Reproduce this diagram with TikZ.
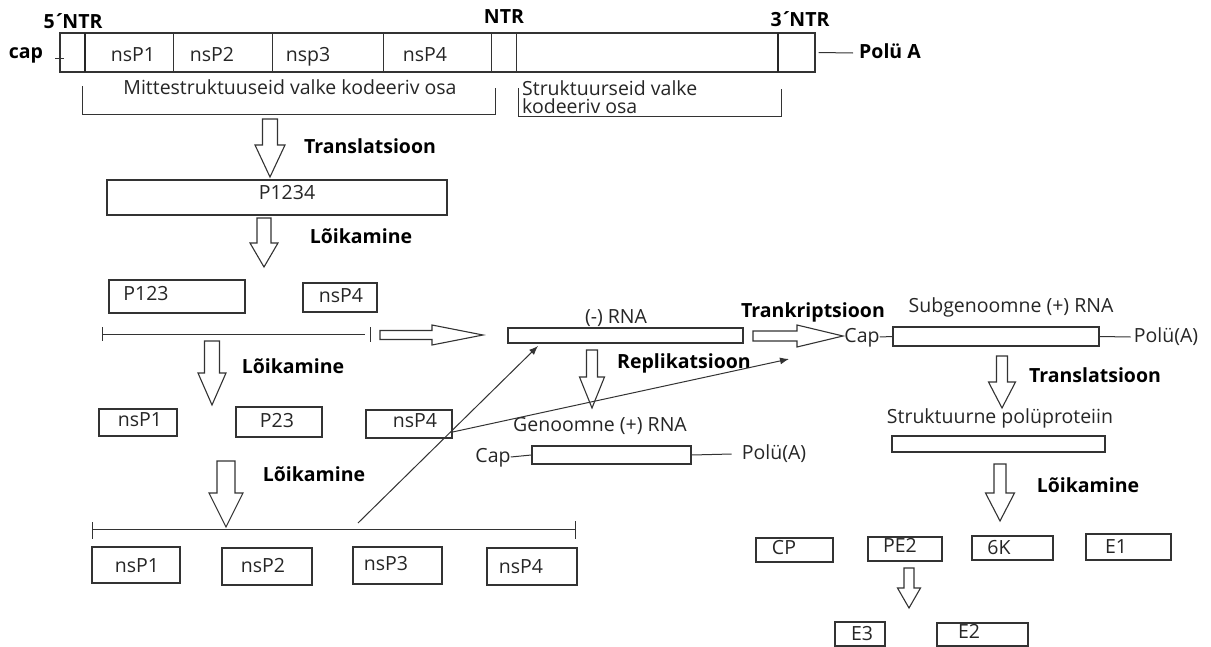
\documentclass[tikz,border=0pt]{standalone}
\usepackage{fontspec}
\setmainfont{Open Sans}
\usetikzlibrary{arrows.meta}

\tikzset{
  box/.style={draw=black!80, line width=1.2pt, rectangle, inner sep=0pt},
  lbl/.style={text=black!85, font=\fontsize{19.5}{22}\selectfont, inner sep=0pt, text height=14pt, text depth=4pt},
  blbl/.style={text=black, font=\bfseries\fontsize{19.5}{22}\selectfont, inner sep=0pt, text height=14pt, text depth=4pt},
  blockarr/.style={draw=black!80, line width=1.1pt, fill=white, line join=miter},
  thin/.style={draw=black!80, line width=1pt},
  ptr/.style={thin, -{Latex[length=9pt,width=7pt]}},
}

%% block arrows: x, top, base, tip, shaft half, head half
\newcommand{\dnarr}[6]{\draw[blockarr] (#1-#5,#2) -- (#1+#5,#2) -- (#1+#5,#3) -- (#1+#6,#3) -- (#1,#4) -- (#1-#6,#3) -- (#1-#5,#3) -- cycle;}
%% y, tail, base, tip, shaft half, head half
\newcommand{\rtarr}[6]{\draw[blockarr] (#2,#1-#5) -- (#3,#1-#5) -- (#3,#1-#6) -- (#4,#1) -- (#3,#1+#6) -- (#3,#1+#5) -- (#2,#1+#5) -- cycle;}
%% name, cx, cy, w, h
\newcommand{\boxat}[5]{\node[box, minimum width=#4pt, minimum height=#5pt] (#1) at (#2,#3) {};}

\begin{document}
\begin{tikzpicture}[x=1pt, y=-1pt]
  \useasboundingbox (0,0) rectangle (1211,646);
  \fill[white] (0,0) rectangle (1211,646);

  %% genoom
  \boxat{genome}{437.5}{52.5}{755}{39}
  \foreach \xd in {173,272,383,491,516} \draw[thin] (\xd,33) -- (\xd,72);
  \draw[black!85, line width=2.2pt] (85,33) -- (85,72);
  \draw[black!85, line width=2.2pt] (778,33) -- (778,72);
  \node[blbl] (ntr5) at (73,23) {5\kern-1pt´\kern-3pt NTR};
  \node[blbl] (ntrm) at (504,18) {NTR};
  \node[blbl] (ntr3) at (800,21) {3\kern-1pt´\kern-3pt NTR};
  \node[blbl] (capg) at (26,53) {cap};
  \draw[thin] (55,58) -- (64,58);
  \node[lbl] (g1) at (133,56) {nsP1};
  \node[lbl] (g2) at (212,56) {nsP2};
  \node[lbl] (g3) at (308,56) {nsp3};
  \node[lbl] (g4) at (425,56) {nsP4};
  \node[blbl] (polya) at (890,53) {Polü A};
  \draw[thin] ([xshift=3pt]genome.east) -- ([xshift=-6pt]polya.west);

  %% klambrid
  \draw[thin] (82,86) -- (82,114) -- (495,114) -- (495,88);
  \draw[thin] (518,88) -- (518,116) -- (781,116) -- (781,89);
  \node[lbl] (mitte) at (290,89) {Mittestruktuuseid valke kodeeriv osa};
  \node[lbl, anchor=west] (strukt1) at (522,90) {Struktuurseid valke};
  \node[lbl, anchor=west] (strukt2) at (522,108) {kodeeriv osa};

  %% P1234
  \dnarr{270}{119}{145}{177}{7.5}{15}
  \node[blbl] (tr1) at (370,148) {Translatsioon};
  \boxat{p1234}{277}{197.5}{340}{35}
  \node[lbl] (tp1234) at (287,194) {P1234};
  \dnarr{264}{218}{243}{267}{7}{14}
  \node[blbl] (lk1) at (361,238) {Lõikamine};

  %% P123 + nsP4
  \boxat{p123}{177}{296.5}{136}{33}
  \node[lbl] (tp123) at (146,295) {P123};
  \boxat{n4a}{340}{297.5}{74}{29}
  \node[lbl] (tn4a) at (341,297) {nsP4};
  \draw[thin] (102,334) -- (365,334);
  \draw[thin] (102,327) -- (102,341);
  \draw[thin] (370,327) -- (370,342);
  \rtarr{335}{380}{432}{483}{4.5}{10}

  \dnarr{212}{341}{373}{405}{7.5}{14}
  \node[blbl] (lk2) at (293,368) {Lõikamine};
  \boxat{n1b}{138}{422.5}{78}{27}
  \node[lbl] (tn1b) at (140,421) {nsP1};
  \boxat{p23}{279}{422}{86}{30}
  \node[lbl] (tp23) at (277,422) {P23};
  \boxat{n4b}{409}{424}{86}{28}
  \node[lbl] (tn4b) at (415,422) {nsP4};

  %% alumine rida
  \dnarr{226}{461}{493}{527}{9}{17}
  \node[blbl] (lk3) at (314,476) {Lõikamine};
  \draw[thin] (92,529) -- (575,529);
  \draw[thin] (92,522) -- (92,539);
  \draw[thin] (575,521) -- (575,539);
  \boxat{n1c}{136}{565}{88}{36}
  \node[lbl] (tn1c) at (137,567) {nsP1};
  \boxat{n2c}{267}{566.5}{90}{37}
  \node[lbl] (tn2c) at (263,567) {nsP2};
  \boxat{n3c}{397.5}{565.5}{89}{37}
  \node[lbl] (tn3c) at (386,565) {nsP3};
  \boxat{n4c}{532}{566.5}{90}{37}
  \node[lbl] (tn4c) at (521,568) {nsP4};

  %% (-) RNA ja replikatsioon
  \node[lbl] (mrna) at (616,318) {(-) RNA};
  \boxat{minus}{625.5}{335.5}{235}{15}
  \dnarr{592}{350}{377}{408}{5.5}{12.5}
  \node[blbl, anchor=west] (repl) at (617,363) {Replikatsioon};
  \node[lbl] (grna) at (600,426) {Genoomne (+) RNA};
  \boxat{gen}{611.5}{455}{159}{18}
  \node[lbl] (gcap) at (493,457) {Cap};
  \node[lbl] (gpoly) at (774,454) {Polü(A)};
  \draw[thin] (gcap.east) -- (gen.west);
  \draw[thin] (gen.east) -- ([xshift=-10pt]gpoly.west);

  %% nsP4 nooled
  \coordinate (fromline) at (358,523);
  \coordinate (torna) at (538,346);
  \coordinate (tosub) at (789,359);
  \draw[ptr] (fromline) -- (torna);
  \draw[ptr] ([yshift=-8pt]n4b.east) -- (tosub);

  %% subgenoomne RNA
  \rtarr{336}{753}{797}{843}{5}{11}
  \node[blbl] (trk) at (813,312) {Trankriptsioon};
  \node[lbl] (srna) at (1011,307) {Subgenoomne (+) RNA};
  \node[lbl] (scap) at (862,337) {Cap};
  \boxat{sub}{996}{336.5}{206}{19}
  \node[lbl] (spoly) at (1166,337) {Polü(A)};
  \draw[thin] (scap.east) -- (sub.west);
  \draw[thin] (sub.east) -- ([xshift=-3pt]spoly.west);
  \dnarr{1002}{356}{382}{408}{5.5}{13.5}
  \node[blbl] (tr2) at (1095,377) {Translatsioon};
  \node[lbl] (spp) at (1000,418) {Struktuurne polüproteiin};
  \boxat{poly}{998.5}{444}{213}{16}
  \dnarr{1000}{464}{493}{521}{6}{14.5}
  \node[blbl] (lk4) at (1088,487) {Lõikamine};

  %% struktuursed valgud
  \boxat{cp}{794.5}{550}{77}{24}
  \node[lbl] (tcp) at (784,549) {CP};
  \boxat{pe2}{905}{549}{74}{24}
  \node[lbl] (tpe2) at (900,547) {PE2};
  \boxat{k6}{1012.5}{548}{81}{24}
  \node[lbl] (tk6) at (999,549) {6K};
  \boxat{e1}{1128.5}{547}{85}{26}
  \node[lbl] (te1) at (1116,548) {E1};
  \dnarr{909}{568}{588}{608}{5}{11.5}
  \boxat{e3}{860}{634}{50}{24}
  \node[lbl] (te3) at (862,635) {E3};
  \boxat{e2}{982.5}{634.5}{91}{23}
  \node[lbl] (te2) at (969,633) {E2};
\end{tikzpicture}
\end{document}
